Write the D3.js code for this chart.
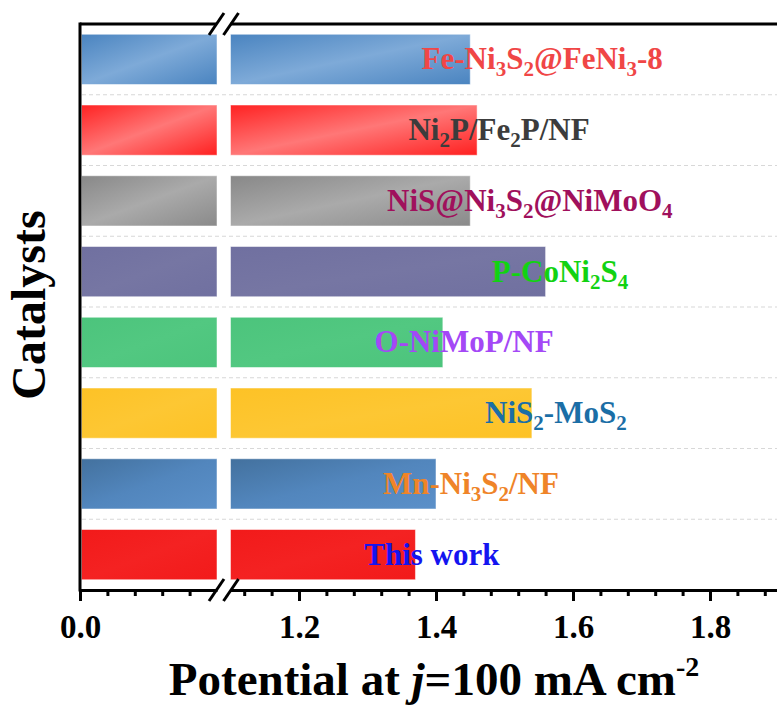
<!DOCTYPE html>
<html>
<head>
<meta charset="utf-8">
<script src="https://cdn.jsdelivr.net/npm/d3@7"></script>
<style>
  body { margin: 0; background: #fff; }
  svg { display: block; font-family: "Liberation Serif", "Times New Roman", serif; }
</style>
</head>
<body>
<svg id="chart"></svg>
<script>
// catalysts, top to bottom
const catalysts = ["Fe-Ni3S2@FeNi3-8", "Ni2P/Fe2P/NF", "NiS@Ni3S2@NiMoO4", "P-CoNi2S4",
                   "O-NiMoP/NF", "NiS2-MoS2", "Mn-Ni3S2/NF", "This work"]
// potential at j = 100 mA cm-2 (V)
const potentials = [1.45, 1.46, 1.45, 1.56, 1.41, 1.54, 1.40, 1.37]
// where each name sits along the axis (V)
const labelAt = [1.555, 1.492, 1.537, 1.581, 1.441, 1.575, 1.451, 1.394]
const majorLeft = [0.0]
const minorLeft = [0.04, 0.08, 0.12, 0.16]
const majorRight = [1.2, 1.4, 1.6, 1.8]
const minorRight = [1.12, 1.16, 1.24, 1.28, 1.32, 1.36, 1.44, 1.48, 1.52, 1.56,
                    1.64, 1.68, 1.72, 1.76, 1.84, 1.88]

const labelColors = ["#f04646", "#3c3c3c", "#a0105c", "#12d212", "#a448f6", "#1b6ea6", "#ef8428", "#1414f0"]
const barStops = [
  ["#4a84c0", "#7eaad8", "#4a84c0"],
  ["#ff2222", "#ff7777", "#ff2020"],
  ["#888888", "#aaaaaa", "#8a8a8a"],
  ["#7070a0", "#7676a3", "#7070a0"],
  ["#4cc47c", "#52c881", "#4cc47c"],
  ["#fdc226", "#fdc733", "#fdc226"],
  ["#43719e", "#5286bd", "#5b90c9"],
  ["#f21a1a", "#f42222", "#f21a1a"]
]

const dimensions = {
  width: 777,
  height: 708,
  margin: { top: 24, right: 0, bottom: 118, left: 80 },
  breakLeft: 217,
  breakRight: 230.5
}

const svg = d3.select("#chart")
  .attr("width", dimensions.width)
  .attr("height", dimensions.height)

const plotBottom = dimensions.height - dimensions.margin.bottom

const xLeft = d3.scaleLinear()
  .domain([0, 0.2])
  .range([dimensions.margin.left, dimensions.breakLeft])

const xRight = d3.scaleLinear()
  .domain([1.1, 1.9])
  .range([dimensions.breakRight, dimensions.breakRight + 0.8 * 685])

const yScale = d3.scaleBand()
  .domain(catalysts)
  .range([dimensions.margin.top, plotBottom])
  .paddingInner(0.29)
  .paddingOuter(0.145)

// gradients for the bars
const defs = svg.append("defs")
barStops.forEach(function(stops, i) {
  const g = defs.append("linearGradient")
    .attr("id", "grad" + i)
    .attr("x1", "0%").attr("y1", "0%")
    .attr("x2", "100%").attr("y2", "100%")
  g.selectAll("stop")
    .data(stops)
    .enter()
    .append("stop")
    .attr("offset", (d, j) => (j * 50) + "%")
    .attr("stop-color", d => d)
})

// dashed grid lines between the bars
const step = yScale.step()
svg.append("g")
  .selectAll("line")
  .data(catalysts.slice(1))
  .enter()
  .append("line")
  .attr("x1", dimensions.margin.left + 2)
  .attr("x2", dimensions.width)
  .attr("y1", d => yScale(d) - step * 0.145)
  .attr("y2", d => yScale(d) - step * 0.145)
  .attr("stroke", "#d8d8d8")
  .attr("stroke-width", 1.2)
  .attr("stroke-dasharray", "4,3")

// bars, left piece and right piece of the broken axis
const bars = svg.append("g")
bars.selectAll(".left")
  .data(catalysts)
  .enter()
  .append("rect")
  .attr("class", "left")
  .attr("x", xLeft(0) + 1.5)
  .attr("y", d => yScale(d))
  .attr("width", xLeft(0.2) - xLeft(0) - 1.5)
  .attr("height", yScale.bandwidth())
  .attr("fill", (d, i) => "url(#grad" + i + ")")
  .attr("stroke", "rgba(255,255,255,0.5)")
  .attr("stroke-width", 1)

bars.selectAll(".right")
  .data(catalysts)
  .enter()
  .append("rect")
  .attr("class", "right")
  .attr("x", xRight(1.1))
  .attr("y", d => yScale(d))
  .attr("width", (d, i) => xRight(potentials[i]) - xRight(1.1))
  .attr("height", yScale.bandwidth())
  .attr("fill", (d, i) => "url(#grad" + i + ")")
  .attr("stroke", "rgba(255,255,255,0.5)")
  .attr("stroke-width", 1)

// names with subscripts
const labels = svg.append("g")
  .selectAll("text")
  .data(catalysts)
  .enter()
  .append("text")
  .attr("x", (d, i) => xRight(labelAt[i]))
  .attr("y", d => yScale(d) + yScale.bandwidth() / 2 + 10)
  .attr("text-anchor", "middle")
  .attr("font-size", "31px")
  .attr("font-weight", "bold")
  .attr("fill", (d, i) => labelColors[i])

labels.each(function(d) {
  const t = d3.select(this)
  const parts = d.split(/(?<=[A-Za-z])(\d+)/)
  let shifted = false
  parts.forEach(function(p, k) {
    if (p === "") return
    if (k % 2 === 1) {
      t.append("tspan").text(p).attr("font-size", "21px").attr("dy", 7)
      shifted = true
    } else {
      const s = t.append("tspan").text(p)
      if (shifted) { s.attr("dy", -7); shifted = false }
    }
  })
})

// frame: left and top lines, broken at the gap
svg.append("line")
  .attr("x1", dimensions.margin.left).attr("x2", dimensions.margin.left)
  .attr("y1", dimensions.margin.top - 1.5).attr("y2", plotBottom + 1.5)
  .attr("stroke", "black").attr("stroke-width", 3)

svg.append("line")
  .attr("x1", dimensions.margin.left).attr("x2", dimensions.breakLeft)
  .attr("y1", dimensions.margin.top).attr("y2", dimensions.margin.top)
  .attr("stroke", "black").attr("stroke-width", 3)

svg.append("line")
  .attr("x1", dimensions.breakRight).attr("x2", dimensions.width)
  .attr("y1", dimensions.margin.top).attr("y2", dimensions.margin.top)
  .attr("stroke", "black").attr("stroke-width", 3)

// x axes
function drawAxis(scale, major, minor, fmt) {
  const g = svg.append("g")
    .attr("transform", `translate(0, ${plotBottom})`)
  g.append("g")
    .call(d3.axisBottom(scale).tickValues(minor).tickSize(6).tickSizeOuter(0).tickFormat(""))
    .call(a => a.select(".domain").remove())
    .selectAll("line").attr("stroke-width", 3)
  const majorAxis = g.append("g")
    .call(d3.axisBottom(scale).tickValues(major).tickSize(11).tickSizeOuter(0)
      .tickPadding(14).tickFormat(fmt))
  majorAxis.select(".domain").attr("stroke-width", 3)
  majorAxis.selectAll("line").attr("stroke-width", 3)
  majorAxis.selectAll("text")
    .attr("font-family", "'Liberation Serif', 'Times New Roman', serif")
    .attr("font-size", "33px")
    .attr("font-weight", "bold")
    .attr("fill", "black")
}
drawAxis(xLeft, majorLeft, minorLeft, d3.format(".1f"))
drawAxis(xRight, majorRight, minorRight, d3.format(".1f"))

// break marks
const marks = svg.append("g")
;[dimensions.margin.top, plotBottom].forEach(function(yy) {
  [dimensions.breakLeft - 0.5, dimensions.breakRight + 0.5].forEach(function(xx) {
    marks.append("line")
      .attr("x1", xx - 7.5).attr("y1", yy + 11)
      .attr("x2", xx + 7.5).attr("y2", yy - 11)
      .attr("stroke", "black").attr("stroke-width", 3)
  })
})

// axis titles
const xTitle = svg.append("text")
  .attr("x", 434)
  .attr("y", 695)
  .attr("text-anchor", "middle")
  .attr("font-size", "47px")
  .attr("font-weight", "bold")
xTitle.append("tspan").text("Potential at ")
xTitle.append("tspan").text("j").attr("font-style", "italic")
xTitle.append("tspan").text("=100 mA cm")
xTitle.append("tspan").text("-2").attr("font-size", "28px").attr("dy", -19)

svg.append("text")
  .text("Catalysts")
  .attr("transform", "translate(45, 305) rotate(-90)")
  .attr("text-anchor", "middle")
  .attr("font-size", "48px")
  .attr("font-weight", "bold")
</script>
</body>
</html>
